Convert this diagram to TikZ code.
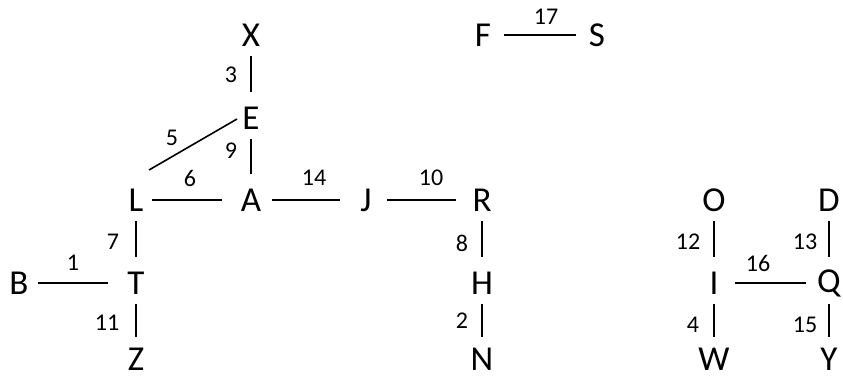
\documentclass[tikz,border=0pt]{standalone}
\usepackage{fontspec}
\setmainfont{Carlito}
\begin{document}
\begin{tikzpicture}[x=1pt,y=-1pt,
  vtx/.style={inner sep=0pt, font=\fontsize{35}{38}\selectfont},
  wt/.style={inner sep=0pt, font=\fontsize{24}{26}\selectfont},
  edge/.style={draw, line width=1.6pt, shorten <=21pt, shorten >=26pt}]
\useasboundingbox (0,0) rectangle (843,376);
% vertices
\node[vtx] (X) at (251,35) {X};
\node[vtx] (E) at (251,118) {E};
\node[vtx] (L) at (136,200) {L};
\node[vtx] (A) at (251,200) {A};
\node[vtx] (J) at (366,200) {J};
\node[vtx] (R) at (482,200) {R};
\node[vtx] (B) at (19,283) {B};
\node[vtx] (T) at (136,283) {T};
\node[vtx] (Z) at (136,359) {Z};
\node[vtx] (H) at (482,283) {H};
\node[vtx] (N) at (482,359) {N};
\node[vtx] (F) at (483,35) {F};
\node[vtx] (S) at (597,35) {S};
\node[vtx] (O) at (714,200) {O};
\node[vtx] (D) at (829,200) {D};
\node[vtx] (I) at (714,283) {I};
\node[vtx] (Q) at (829,283) {Q};
\node[vtx] (W) at (714,359) {W};
\node[vtx] (Y) at (829,359) {Y};
% edges, drawn between vertex centres and cut back on both ends
\draw[edge] (X.center) -- (E.center);
\draw[edge] (E.center) -- (A.center);
\draw[line width=1.6pt] ([shift={(-14,1)}]E.center) -- ([shift={(13,-30)}]L.center);
\draw[edge, shorten <=16pt, shorten >=29pt] (L.center) -- (A.center);
\draw[edge] (A.center) -- (J.center);
\draw[edge] (J.center) -- (R.center);
\draw[edge] (L.center) -- (T.center);
\draw[edge, shorten <=19pt, shorten >=28pt] (B.center) -- (T.center);
\draw[edge, shorten >=22pt] (T.center) -- (Z.center);
\draw[edge] (R.center) -- (H.center);
\draw[edge, shorten >=22pt] (H.center) -- (N.center);
\draw[edge, shorten >=21pt] (F.center) -- (S.center);
\draw[edge] (O.center) -- (I.center);
\draw[edge] (D.center) -- (Q.center);
\draw[edge, shorten >=23pt] (I.center) -- (Q.center);
\draw[edge, shorten >=22pt] (I.center) -- (W.center);
\draw[edge, shorten >=22pt] (Q.center) -- (Y.center);
% weights
\node[wt] (w3) at (231,75) {3};
\node[wt] (w9) at (231,151) {9};
\node[wt] (w5) at (172,138) {5};
\node[wt] (w6) at (190,178) {6};
\node[wt] (w14) at (314,178) {14};
\node[wt] (w10) at (431,178) {10};
\node[wt] (w7) at (113,242) {7};
\node[wt] (w1) at (73,263) {1};
\node[wt] (w11) at (107,323) {11};
\node[wt] (w8) at (462,243) {8};
\node[wt] (w2) at (462,321) {2};
\node[wt] (w17) at (546,17) {17};
\node[wt] (w12) at (688,242) {12};
\node[wt] (w13) at (805,242) {13};
\node[wt] (w16) at (758,263) {16};
\node[wt] (w4) at (693,325) {4};
\node[wt] (w15) at (805,325) {15};
\end{tikzpicture}
\end{document}
